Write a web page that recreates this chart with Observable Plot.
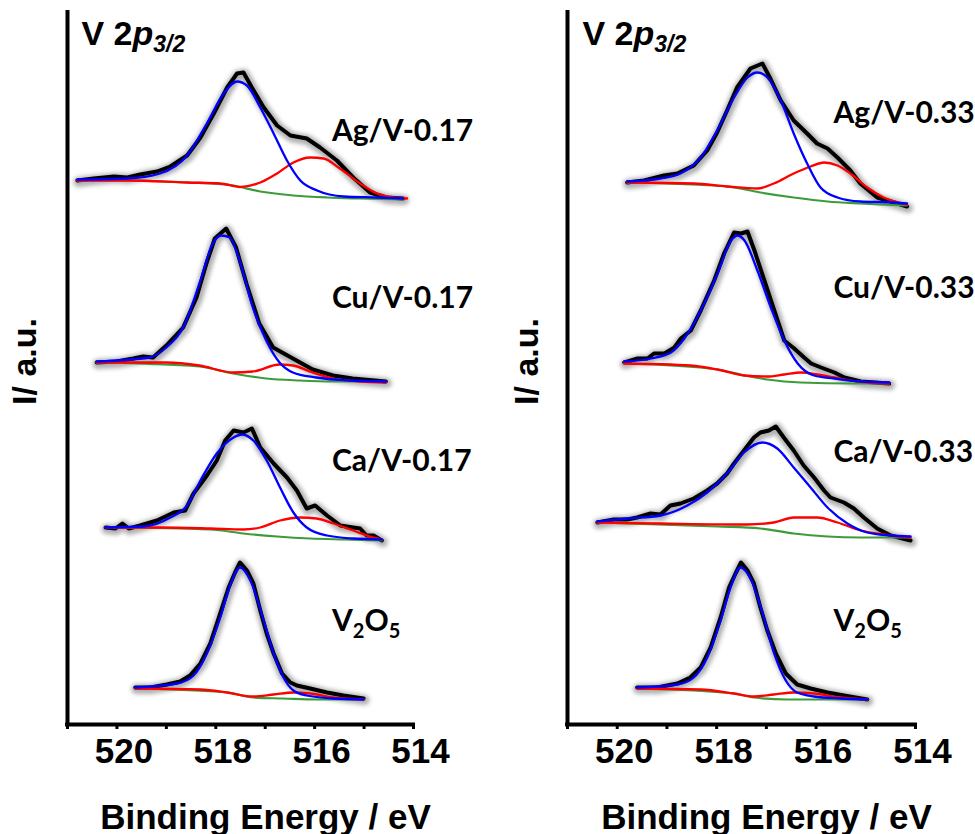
<!DOCTYPE html>
<html><head><meta charset="utf-8">
<script src="https://cdn.jsdelivr.net/npm/d3@7"></script>
<script src="https://cdn.jsdelivr.net/npm/@observablehq/plot@0.6"></script>
<style>
body{margin:0;background:#fff;}
#wrap{position:relative;width:975px;height:834px;overflow:hidden;background:#fff;}
#wrap svg{position:absolute;top:0;}
</style></head><body><div id="wrap"></div>
<script>
// ---------- tick labels / text ----------
const tickValues = [520, 518, 516, 514];
const minorTicks = [521, 520, 519, 518, 517, 516, 515, 514];
const xTitle = "Binding Energy / eV";
const yTitle = "I/ a.u.";
const panelTitle = "V 2p3/2";
const samplesLeft = ["Ag/V-0.17", "Cu/V-0.17", "Ca/V-0.17", "V2O5"];
const samplesRight = ["Ag/V-0.33", "Cu/V-0.33", "Ca/V-0.33", "V2O5"];
// vertical stacking offsets (a.u.) of each spectrum
const offsetsLeft = [52.4, 34.2, 18.3, 2.4];
const offsetsRight = [51.7, 34.0, 18.3, 2.4];
// label energy and level (a.u.)
const labelEnergy = 515.65;
const labelLevelsLeft = [58.4, 41.7, 25.4, 9.4];
const labelLevelsRight = [60.2, 42.7, 26.3, 9.4];
const yTitleLevel = 36.3;

// ---------- spectra: [binding energy eV, intensity a.u.] ----------
// exp = measured, v5 = V5+ component, v4 = V4+ component, bg = background
const ag017_exp = [[520.80,2.0],[520.47,2.2],[520.06,2.4],[519.79,2.3],[519.53,2.6],[519.19,2.9],[518.92,3.4],[518.58,4.5],[518.31,6.3],[518.04,8.7],[517.77,11.3],[517.57,12.7],[517.44,12.8],[517.27,11.3],[517.03,9.3],[516.76,7.5],[516.49,6.5],[516.16,6.2],[515.89,5.3],[515.55,4.0],[515.22,2.3],[514.88,0.8],[514.54,0.3],[514.21,0.2]];
const ag017_v5 = [[520.80,2.1],[519.79,2.2],[519.13,2.7],[518.58,4.5],[518.18,7.7],[517.84,10.7],[517.57,11.9],[517.37,11.5],[517.10,9.3],[516.83,6.7],[516.56,4.0],[516.29,2.0],[515.95,1.0],[515.41,0.4],[514.74,0.3],[514.21,0.2]];
const ag017_v4 = [[520.80,2.0],[519.79,2.0],[518.58,1.8],[517.91,1.7],[517.51,1.35],[517.10,1.8],[516.76,2.7],[516.43,3.8],[516.09,4.3],[515.82,4.2],[515.49,3.2],[515.08,1.7],[514.74,0.7],[514.40,0.3],[514.13,0.2]];
const ag017_bg = [[520.80,2.0],[519.79,2.0],[518.58,1.8],[517.77,1.6],[517.10,0.9],[516.43,0.5],[515.75,0.3],[515.08,0.2],[514.21,0.1]];

const cu017_exp = [[520.41,2.0],[520.01,2.1],[519.67,2.4],[519.47,2.6],[519.27,2.5],[519.00,3.7],[518.66,5.5],[518.39,8.5],[518.19,11.9],[518.02,14.4],[517.79,15.4],[517.59,13.5],[517.38,9.9],[517.12,5.9],[516.84,3.5],[516.44,2.4],[516.04,1.3],[515.63,0.7],[515.23,0.4],[514.56,0.1]];
const cu017_v5 = [[520.41,2.1],[519.34,2.5],[519.00,3.5],[518.66,5.5],[518.33,9.9],[518.06,13.9],[517.89,14.7],[517.72,14.5],[517.52,12.2],[517.25,7.5],[516.98,4.2],[516.71,2.0],[516.44,1.0],[515.97,0.5],[515.30,0.2],[514.56,0.1]];
const cu017_v4 = [[520.41,2.0],[519.00,2.0],[518.33,1.7],[517.65,1.0],[517.25,1.1],[516.71,1.8],[516.44,1.7],[516.04,1.0],[515.63,0.4],[515.09,0.1],[514.56,0.0]];
const cu017_bg = [[520.41,2.0],[518.33,1.6],[517.65,0.9],[516.98,0.4],[516.31,0.2],[515.63,0.1],[514.56,0.1]];

const ca017_exp = [[520.23,1.4],[520.03,1.3],[519.89,1.8],[519.76,1.3],[519.53,1.6],[519.19,2.1],[518.85,2.9],[518.62,3.1],[518.45,4.8],[518.18,6.6],[517.98,8.1],[517.81,10.1],[517.64,11.1],[517.44,10.9],[517.27,11.3],[517.10,9.4],[516.83,7.8],[516.56,6.4],[516.36,5.1],[516.16,3.3],[515.99,3.6],[515.75,2.6],[515.48,1.6],[515.22,1.4],[515.08,1.3],[514.95,0.6],[514.81,0.6],[514.64,0.1]];
const ca017_v5 = [[520.23,1.4],[519.46,1.5],[518.92,2.4],[518.58,3.6],[518.31,6.1],[517.98,8.8],[517.64,10.4],[517.47,10.7],[517.24,10.1],[516.97,8.1],[516.70,5.4],[516.43,2.9],[516.16,1.4],[515.75,0.6],[515.22,0.3],[514.64,0.2]];
const ca017_v4 = [[520.23,1.4],[519.12,1.4],[518.11,1.3],[517.44,1.2],[517.10,1.4],[516.70,2.1],[516.29,2.4],[515.96,2.3],[515.62,1.8],[515.22,1.1],[514.81,0.4],[514.64,0.2]];
const ca017_bg = [[520.23,1.4],[518.11,1.2],[517.44,0.8],[516.76,0.5],[516.09,0.3],[515.42,0.2],[514.64,0.1]];

const v2o5L_exp = [[519.63,1.3],[519.32,1.3],[518.99,1.6],[518.72,1.9],[518.52,2.5],[518.31,3.7],[518.11,5.7],[517.91,8.7],[517.74,11.3],[517.61,12.8],[517.51,13.8],[517.37,13.0],[517.24,11.7],[517.10,9.0],[516.97,6.7],[516.83,4.7],[516.66,2.7],[516.49,1.8],[516.36,1.5],[516.09,1.2],[515.75,0.8],[515.42,0.5],[515.01,0.2]];
const v2o5L_v5 = [[519.63,1.3],[518.78,1.7],[518.45,2.5],[518.18,4.7],[517.91,8.3],[517.71,11.5],[517.51,13.3],[517.30,12.0],[517.03,8.0],[516.83,4.7],[516.63,2.3],[516.43,1.0],[516.16,0.5],[515.62,0.2],[515.01,0.1]];
const v2o5L_v4 = [[519.63,1.2],[518.31,1.1],[517.77,0.8],[517.24,0.4],[516.83,0.6],[516.43,0.8],[516.09,0.7],[515.62,0.3],[515.01,0.1]];
const v2o5L_bg = [[519.63,1.2],[517.77,0.8],[517.24,0.3],[516.63,0.2],[515.96,0.1],[515.01,0.1]];

const ag033_exp = [[519.80,2.5],[519.46,2.7],[519.06,3.2],[518.79,3.4],[518.46,4.2],[518.19,5.7],[517.99,7.5],[517.79,9.7],[517.59,12.0],[517.32,13.9],[517.08,14.4],[516.92,12.9],[516.71,10.7],[516.45,8.7],[516.18,7.4],[515.98,6.4],[515.77,5.9],[515.57,5.0],[515.31,3.7],[515.11,2.4],[514.77,1.0],[514.43,0.5],[514.17,0.1]];
const ag033_v5 = [[519.80,2.6],[519.13,2.9],[518.73,3.4],[518.32,5.0],[517.99,7.7],[517.65,11.0],[517.38,13.0],[517.18,13.5],[516.98,13.0],[516.71,10.7],[516.45,7.4],[516.18,4.4],[515.91,2.0],[515.57,1.0],[515.11,0.6],[514.43,0.5],[514.17,0.4]];
const ag033_v4 = [[519.80,2.5],[518.46,2.4],[517.79,2.1],[517.18,1.9],[516.85,2.4],[516.45,3.4],[516.11,4.1],[515.84,4.5],[515.57,4.2],[515.31,3.4],[514.97,2.0],[514.64,1.0],[514.17,0.3]];
const ag033_bg = [[519.80,2.5],[517.79,2.1],[517.12,1.5],[516.45,1.0],[515.77,0.6],[515.11,0.4],[514.17,0.2]];

const cu033_exp = [[519.86,2.2],[519.59,2.6],[519.39,2.6],[519.26,3.1],[519.05,3.1],[518.85,3.7],[518.72,4.6],[518.52,5.4],[518.32,7.4],[518.05,10.4],[517.85,13.1],[517.65,15.2],[517.51,15.1],[517.38,15.3],[517.24,13.4],[517.04,10.4],[516.84,7.4],[516.64,4.4],[516.44,3.6],[516.24,2.7],[516.10,2.1],[515.90,1.7],[515.63,1.2],[515.43,0.7],[515.10,0.3],[514.53,0.1]];
const cu033_v5 = [[519.86,2.3],[519.32,2.6],[518.92,3.2],[518.65,4.6],[518.32,7.4],[517.98,11.1],[517.71,14.4],[517.58,14.9],[517.44,14.4],[517.18,11.4],[516.91,7.7],[516.64,4.4],[516.37,2.1],[516.04,0.9],[515.63,0.6],[515.10,0.3],[514.53,0.2]];
const cu033_v4 = [[519.86,2.1],[518.52,1.9],[517.98,1.5],[517.44,0.9],[516.98,0.8],[516.64,1.0],[516.31,1.2],[515.97,1.0],[515.63,0.7],[515.16,0.3],[514.53,0.1]];
const cu033_bg = [[519.86,2.1],[517.98,1.5],[517.44,0.9],[516.98,0.5],[516.31,0.2],[515.30,0.1],[514.53,0.1]];

const ca033_exp = [[520.40,1.9],[520.07,2.2],[519.80,2.2],[519.60,2.4],[519.33,2.8],[519.13,2.7],[518.93,3.6],[518.73,3.8],[518.46,4.3],[518.19,5.1],[517.99,5.8],[517.79,6.8],[517.65,7.8],[517.45,9.1],[517.25,10.4],[517.12,10.9],[516.95,11.1],[516.81,11.5],[516.65,10.4],[516.45,9.1],[516.25,7.6],[516.04,6.4],[515.84,5.1],[515.71,4.4],[515.44,3.9],[515.24,3.3],[515.04,2.4],[514.77,1.3],[514.50,0.6],[514.10,0.1]];
const ca033_v5 = [[520.40,2.0],[519.80,2.3],[519.13,2.6],[518.59,3.6],[518.19,4.9],[517.79,6.8],[517.45,8.9],[517.08,9.9],[516.78,9.3],[516.45,7.4],[516.11,5.4],[515.77,3.4],[515.37,1.8],[514.97,0.9],[514.50,0.6],[514.10,0.5]];
const ca033_v4 = [[520.40,1.9],[519.13,1.8],[517.38,1.7],[516.85,1.9],[516.45,2.4],[515.98,2.4],[515.57,1.9],[515.10,1.1],[514.64,0.7],[514.10,0.4]];
const ca033_bg = [[520.40,1.9],[517.99,1.5],[517.12,1.3],[516.45,0.8],[515.77,0.5],[515.10,0.4],[514.10,0.4]];

const v2o5R_exp = [[519.60,1.3],[519.20,1.3],[518.79,1.7],[518.53,2.3],[518.32,3.3],[518.12,5.3],[517.92,8.3],[517.75,11.3],[517.62,12.7],[517.51,13.8],[517.38,13.0],[517.25,11.7],[517.12,9.3],[516.98,7.0],[516.81,4.7],[516.61,2.7],[516.38,1.6],[516.11,1.2],[515.77,0.8],[515.44,0.5],[514.97,0.1]];
const v2o5R_v5 = [[519.60,1.3],[518.79,1.6],[518.46,2.3],[518.19,4.3],[517.92,8.0],[517.72,11.3],[517.52,13.3],[517.32,12.2],[517.05,8.3],[516.85,4.8],[516.61,2.0],[516.38,0.8],[516.04,0.4],[515.51,0.2],[514.97,0.1]];
const v2o5R_v4 = [[519.60,1.2],[518.32,1.1],[517.65,0.7],[517.25,0.4],[516.85,0.6],[516.45,0.8],[516.04,0.7],[515.51,0.3],[514.97,0.1]];
const v2o5R_bg = [[519.60,1.2],[517.65,0.7],[517.25,0.3],[516.58,0.1],[514.97,0.1]];

// ---------- build tables ----------
const leftSpectra = [
  {exp: ag017_exp, v5: ag017_v5, v4: ag017_v4, bg: ag017_bg},
  {exp: cu017_exp, v5: cu017_v5, v4: cu017_v4, bg: cu017_bg},
  {exp: ca017_exp, v5: ca017_v5, v4: ca017_v4, bg: ca017_bg},
  {exp: v2o5L_exp, v5: v2o5L_v5, v4: v2o5L_v4, bg: v2o5L_bg}
];
const rightSpectra = [
  {exp: ag033_exp, v5: ag033_v5, v4: ag033_v4, bg: ag033_bg},
  {exp: cu033_exp, v5: cu033_v5, v4: cu033_v4, bg: cu033_bg},
  {exp: ca033_exp, v5: ca033_v5, v4: ca033_v4, bg: ca033_bg},
  {exp: v2o5R_exp, v5: v2o5R_v5, v4: v2o5R_v4, bg: v2o5R_bg}
];

function rowsFor(spectra, offsets, kind) {
  const rows = [];
  spectra.forEach((s, i) => {
    s[kind].forEach(([E, I]) => rows.push({spectrum: i, E, y: offsets[i] + I}));
  });
  return rows;
}

const W = 487, H = 834;
const panels = [
  {left: 0, marginLeft: 67, marginRight: 74, spectra: leftSpectra, offsets: offsetsLeft,
   samples: samplesLeft, levels: labelLevelsLeft, titleDx: 14, yDx: -42},
  {left: 488, marginLeft: 79, marginRight: 60, spectra: rightSpectra, offsets: offsetsRight,
   samples: samplesRight, levels: labelLevelsRight, titleDx: 15, yDx: -40}
];

const wrap = document.getElementById("wrap");
const GLOW = "#8f8f8f";
const fitCurve = "monotone-x";

panels.forEach(p => {
  const labels = p.samples.map((t, i) => ({text: t, E: labelEnergy, y: p.levels[i]}));
  const svg = Plot.plot({
    width: W, height: H,
    marginLeft: p.marginLeft, marginRight: p.marginRight, marginTop: 12, marginBottom: 110,
    x: {domain: [521, 514], label: null},
    y: {domain: [0, 71.2], axis: null},
    style: {fontFamily: "'Liberation Sans', Arial, sans-serif", fontWeight: "bold", fontSize: "35px", background: "transparent", color: "#000"},
    marks: [
      Plot.line(rowsFor(p.spectra, p.offsets, "exp"), {x: "E", y: "y", z: "spectrum", stroke: GLOW, strokeWidth: 10, strokeOpacity: 0.7, dx: 1, dy: 1.5, strokeLinejoin: "round"}),
      Plot.line(rowsFor(p.spectra, p.offsets, "exp"), {x: "E", y: "y", z: "spectrum", stroke: "#000", strokeWidth: 4, strokeLinejoin: "round"}),
      Plot.line(rowsFor(p.spectra, p.offsets, "bg"), {x: "E", y: "y", z: "spectrum", stroke: "#3c9c3c", strokeWidth: 2.2, curve: fitCurve}),
      Plot.line(rowsFor(p.spectra, p.offsets, "v4"), {x: "E", y: "y", z: "spectrum", stroke: "#ff0000", strokeWidth: 2.3, curve: fitCurve}),
      Plot.line(rowsFor(p.spectra, p.offsets, "v5"), {x: "E", y: "y", z: "spectrum", stroke: "#0000ff", strokeWidth: 2.3, curve: fitCurve}),
      Plot.ruleX([521], {strokeWidth: 4, strokeLinecap: "square"}),
      Plot.ruleY([0], {strokeWidth: 4, strokeLinecap: "square"}),
      Plot.axisX({ticks: minorTicks, tickSize: 5, strokeWidth: 3, tickFormat: () => "", label: null}),
      Plot.axisX({ticks: tickValues, tickSize: 0, tickPadding: 14, dx: 7, fontSize: 35, tickFormat: d => String(d), label: null}),
      Plot.text([xTitle], {frameAnchor: "bottom", dx: 25, dy: 104, lineAnchor: "bottom", fontSize: 35}),
      Plot.text([yTitle], {x: 521, y: yTitleLevel, rotate: -90, dx: p.yDx, fontSize: 34}),
      Plot.text([panelTitle], {frameAnchor: "top-left", dx: p.titleDx, dy: 32, lineAnchor: "bottom", textAnchor: "start", fontSize: 34}),
      Plot.text(labels, {x: "E", y: "y", text: "text", textAnchor: "start", lineAnchor: "bottom", fontFamily: "Lato, 'Open Sans', sans-serif", fontWeight: "bold", fontSize: 30})
    ]
  });
  svg.style.left = p.left + "px";
  const s = d3.select(svg);
  s.selectAll(`g[stroke="${GLOW}"]`).style("filter", "blur(2px)");
  s.selectAll("text").each(function() {
    const t = this.textContent;
    const el = d3.select(this);
    if (t === "V2O5") {
      el.text(null);
      el.append("tspan").text("V");
      el.append("tspan").attr("font-size", 20).attr("dy", 7).text("2");
      el.append("tspan").attr("dy", -7).text("O");
      el.append("tspan").attr("font-size", 20).attr("dy", 7).text("5");
    } else if (t === panelTitle) {
      el.text(null);
      el.append("tspan").text("V 2");
      el.append("tspan").attr("font-style", "italic").text("p");
      el.append("tspan").attr("font-style", "italic").attr("font-size", 23).attr("dy", 7).text("3/2");
    }
  });
  wrap.appendChild(svg);
});
</script>
</body></html>
